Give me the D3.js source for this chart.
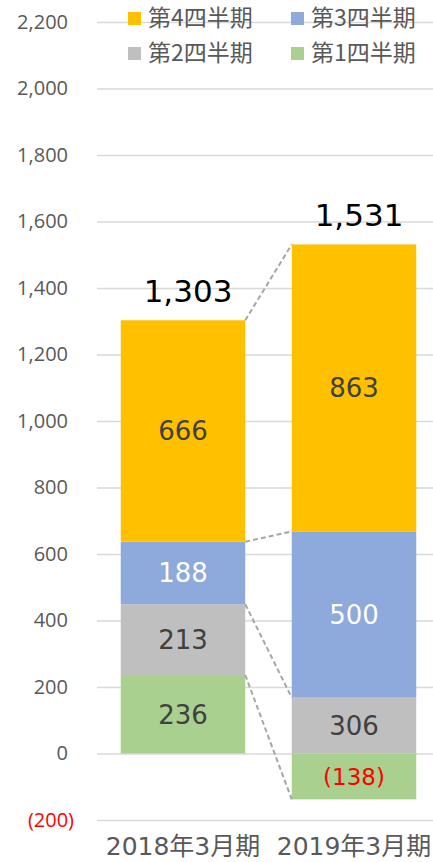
<!DOCTYPE html>
<html>
<head>
<meta charset="utf-8">
<script src="https://cdn.jsdelivr.net/npm/d3@7"></script>
<style>
  body { margin: 0; background: #fff; }
  svg { display: block; }
</style>
</head>
<body>
<div class="chart"></div>
<script>
const categories = ["2018年3月期", "2019年3月期"]
const quarters = ["第1四半期", "第2四半期", "第3四半期", "第4四半期"]
const q1 = [236, -138]
const q2 = [213, 306]
const q3 = [188, 500]
const q4 = [666, 863]
const yTicks = [-200, 0, 200, 400, 600, 800, 1000, 1200, 1400, 1600, 1800, 2000, 2200]

const width = 433
const height = 862
const colors = ["#A9D08E", "#BFBFBF", "#8EA9DB", "#FFC000"]
const labelColors = ["#404040", "#404040", "#ffffff", "#404040"]
const numFont = "'DejaVu Sans', 'Noto Sans CJK JP', sans-serif"

const series = [q1, q2, q3, q4]
const fmt = d3.format(",")
const fmtSigned = v => v < 0 ? `(${fmt(-v)})` : fmt(v)

const x = d3.scaleBand()
    .domain(categories)
    .range([97.5, 439.5])
    .paddingInner(0.272)
    .paddingOuter(0.136)

const y = d3.scaleLinear()
    .domain([-200, 2200])
    .range([820, 22])

// stack the quarters, a segment that crosses zero starts at the axis
const stacks = categories.map((cat, i) => {
    let prev = 0
    return series.map((s, k) => {
        const end = prev + s[i]
        const start = (k > 0 && prev < 0 && end > 0) ? 0 : prev
        const seg = { cat, k, value: s[i], start, end }
        prev = end
        return seg
    })
})
const totals = categories.map((c, i) => d3.sum(series, s => s[i]))

const svg = d3.create("svg")
    .attr("width", width)
    .attr("height", height)
    .attr("viewBox", [0, 0, width, height])

// gridlines + tick labels
svg.append("g")
    .attr("transform", "translate(97,0)")
    .call(d3.axisLeft(y).tickValues(yTicks).tickSize(-(width - 97)).tickPadding(29).tickFormat(fmtSigned))
    .call(g => g.select(".domain").remove())
    .call(g => g.selectAll(".tick line").attr("stroke", "#D9D9D9").attr("stroke-width", 1.3))
    .call(g => g.selectAll(".tick text")
        .attr("font-family", "'Open Sans', sans-serif")
        .attr("font-size", 20)
        .attr("fill", d => d < 0 ? "#FF0000" : "#595959")
        .attr("x", d => d < 0 ? -23 : -29))

// bars
svg.append("g")
    .selectAll("rect")
    .data(stacks.flat())
    .join("rect")
    .attr("x", d => x(d.cat))
    .attr("width", x.bandwidth())
    .attr("y", d => y(Math.max(d.start, d.end)))
    .attr("height", d => Math.abs(y(d.start) - y(d.end)))
    .attr("fill", d => colors[d.k])

// dashed connectors between the bars
svg.append("g")
    .selectAll("line")
    .data(quarters.map((q, k) => [stacks[0][k], stacks[1][k]]))
    .join("line")
    .attr("x1", d => x(d[0].cat) + x.bandwidth())
    .attr("y1", d => y(d[0].end))
    .attr("x2", d => x(d[1].cat))
    .attr("y2", d => y(d[1].end))
    .attr("stroke", "#A6A6A6")
    .attr("stroke-width", 2)
    .attr("stroke-dasharray", "5,3")

// segment labels
svg.append("g")
    .selectAll("text")
    .data(stacks.flat())
    .join("text")
    .attr("x", d => x(d.cat) + x.bandwidth() / 2)
    .attr("y", d => y((d.start + d.end) / 2))
    .attr("dy", "0.36em")
    .attr("text-anchor", "middle")
    .attr("font-family", numFont)
    .attr("font-size", d => d.value < 0 ? 23 : 26)
    .attr("fill", d => d.value < 0 ? "#FF0000" : labelColors[d.k])
    .text(d => fmtSigned(d.value))

// totals
svg.append("g")
    .selectAll("text")
    .data(totals)
    .join("text")
    .attr("x", (d, i) => x(categories[i]) + x.bandwidth() / 2 + 5)
    .attr("y", d => y(d) - 18)
    .attr("text-anchor", "middle")
    .attr("font-family", numFont)
    .attr("font-size", 31)
    .attr("fill", "#000")
    .text(d => fmt(d))

// category labels
svg.append("g")
    .selectAll("text")
    .data(categories)
    .join("text")
    .attr("x", d => x(d) + x.bandwidth() / 2)
    .attr("y", 855)
    .attr("text-anchor", "middle")
    .attr("font-family", numFont)
    .attr("font-size", 25)
    .attr("fill", "#595959")
    .text(d => d)

// legend, 2 columns, last quarter first
const legend = svg.append("g")
    .selectAll("g")
    .data(quarters.map((q, k) => k).reverse())
    .join("g")
    .attr("transform", (k, i) => `translate(${128 + (i % 2) * 163},${18 + Math.floor(i / 2) * 35})`)

legend.append("rect")
    .attr("y", -6)
    .attr("width", 13)
    .attr("height", 13)
    .attr("fill", k => colors[k])

legend.append("text")
    .attr("x", 20)
    .attr("dy", "0.33em")
    .attr("font-family", "'Noto Sans CJK JP', sans-serif")
    .attr("font-size", 23)
    .attr("fill", "#595959")
    .text(k => quarters[k])

document.querySelector(".chart").appendChild(svg.node())
</script>
</body>
</html>
